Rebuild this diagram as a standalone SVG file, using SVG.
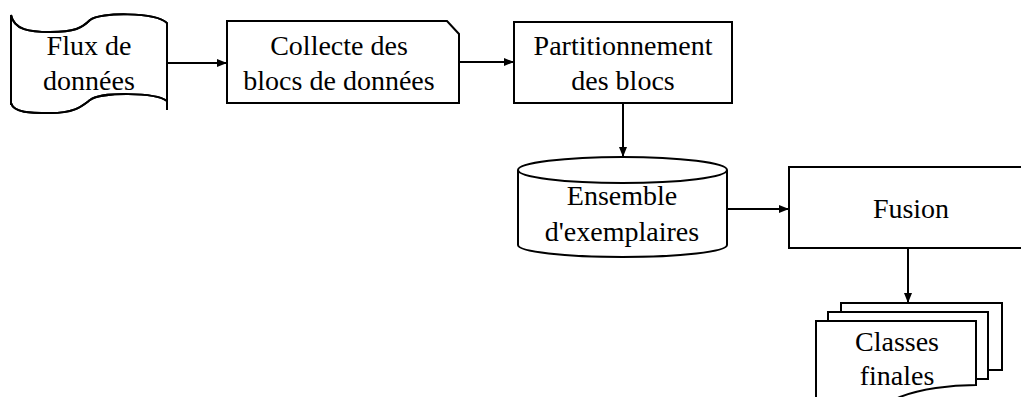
<svg xmlns="http://www.w3.org/2000/svg" width="1021" height="397" viewBox="0 0 1021 397">
<style>
.s{fill:#fff;stroke:#000;stroke-width:2}
.t{font-family:"Liberation Serif","Times New Roman",serif;font-size:28px;fill:#000;text-anchor:middle}
.c{fill:none;stroke:#000;stroke-width:2}
</style>
<defs>
<marker id="ah" viewBox="0 0 10 10" refX="10" refY="5" markerWidth="10" markerHeight="10" markerUnits="userSpaceOnUse" orient="auto">
<path d="M0,1 L10,5 L0,9 Z" fill="#000"/>
</marker>
</defs>
<rect width="1021" height="397" fill="#fff"/>
<g id="connectors">
<line class="c" x1="167" y1="63" x2="227" y2="63" marker-end="url(#ah)"/>
<line class="c" x1="459" y1="62" x2="514" y2="62" marker-end="url(#ah)"/>
<line class="c" x1="623" y1="103" x2="623" y2="157" marker-end="url(#ah)"/>
<line class="c" x1="727" y1="209" x2="789" y2="209" marker-end="url(#ah)"/>
<line class="c" x1="908" y1="248" x2="908" y2="303" marker-end="url(#ah)"/>
</g>
<g id="flux">
<path class="s" d="M11,15 C14,30 30,32 50,32 C75,32 82,28 90,20 C100,12 155,12 167,23 V101 C155,92 100,92 90,100 C82,106 75,113 50,113 C30,113 14,113 11,103 Z" stroke="none"/>
<path class="c" d="M11,15 C14,30 30,32 50,32 C75,32 82,28 90,20 C100,12 155,12 167,23"/>
<path class="c" d="M11,103 C14,113 30,113 50,113 C75,113 82,106 90,100 C100,92 155,92 167,101"/>
<line class="c" x1="11" y1="15" x2="11" y2="105"/>
<line class="c" x1="167" y1="23" x2="167" y2="110"/>
<text class="t" x="89" y="55">Flux de</text>
<text class="t" x="89" y="90">données</text>
</g>
<g id="collecte">
<path class="s" d="M227,21 H447 L459,34 V103 H227 Z"/>
<text class="t" x="339" y="55">Collecte des</text>
<text class="t" x="339" y="90">blocs de données</text>
</g>
<g id="partition">
<rect class="s" x="514" y="22" width="218" height="81"/>
<text class="t" x="623" y="55">Partitionnement</text>
<text class="t" x="623" y="90">des blocs</text>
</g>
<g id="ensemble">
<path class="s" d="M518,170 V245 A104.5,12 0 0 0 727,245 V170"/>
<ellipse class="s" cx="622.5" cy="170" rx="104.5" ry="13"/>
<text class="t" x="622" y="205">Ensemble</text>
<text class="t" x="622" y="241">d'exemplaires</text>
</g>
<g id="fusion">
<rect class="s" x="789" y="167" width="245" height="81"/>
<text class="t" x="911" y="218">Fusion</text>
</g>
<g id="classes">
<rect class="s" x="841" y="303" width="161" height="67"/>
<rect class="s" x="828" y="312" width="160" height="67"/>
<path class="s" d="M816,321 H976 V385 C950,385 920,389 900,397 C870,410 840,410 816,405 Z"/>
<text class="t" x="897" y="351">Classes</text>
<text class="t" x="897" y="385">finales</text>
</g>
</svg>
